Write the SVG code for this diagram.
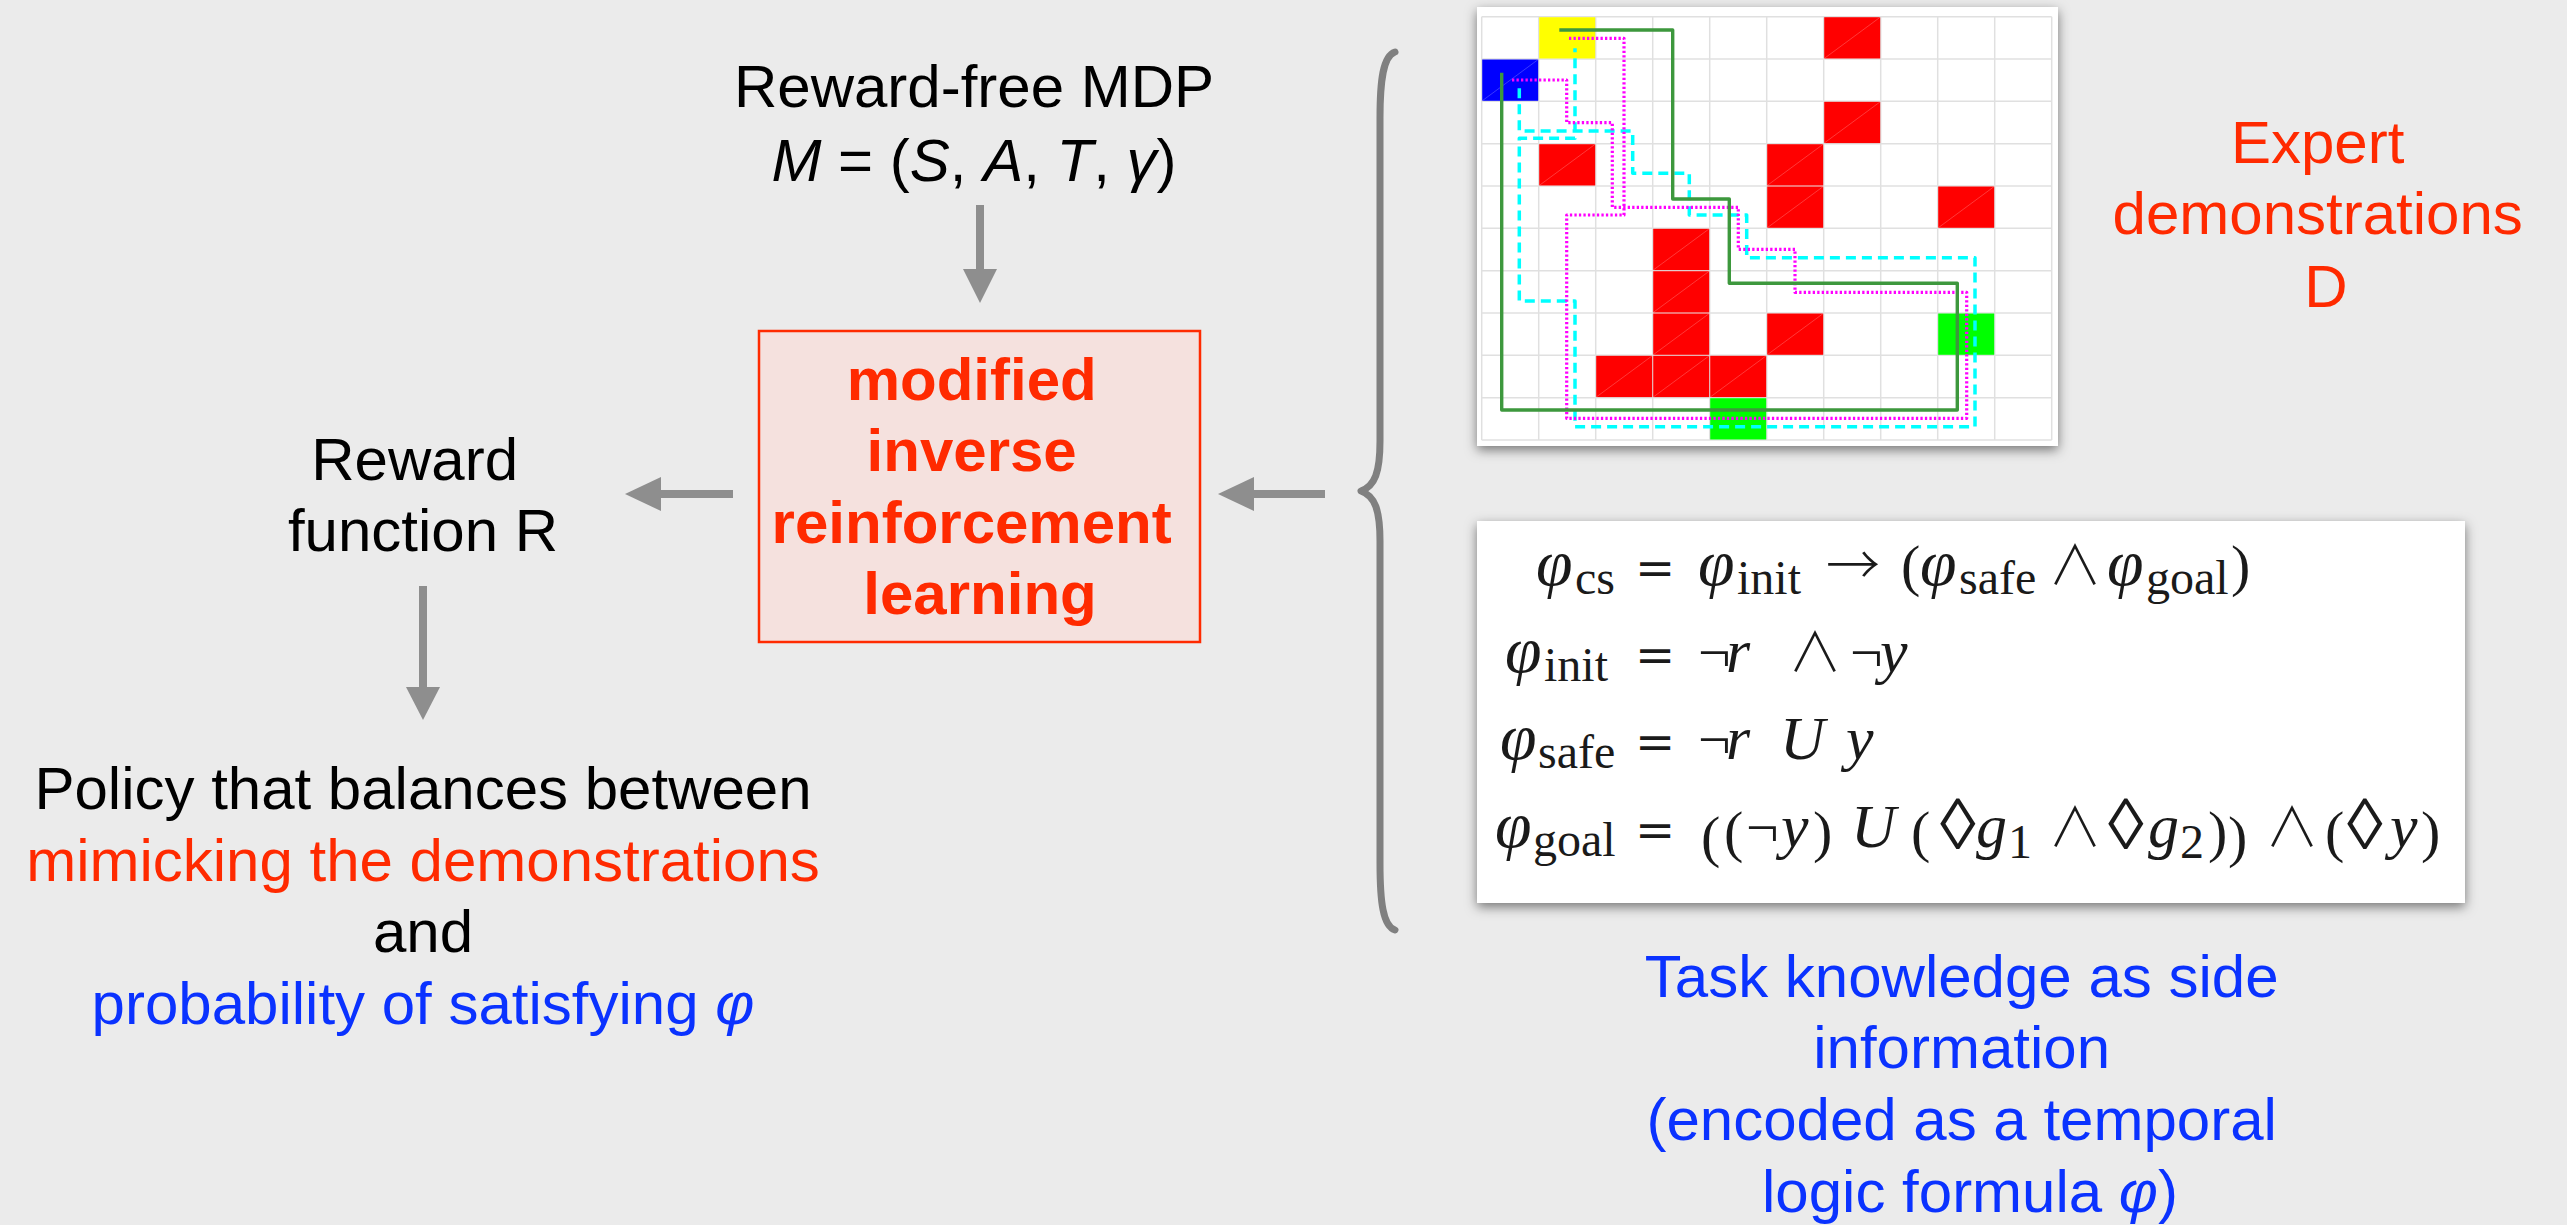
<svg xmlns="http://www.w3.org/2000/svg" width="2567" height="1225" viewBox="0 0 2567 1225">
  <defs>
    <style>
      .sans { font-family: "Liberation Sans", Arial, sans-serif; font-size: 60px; }
      .black { fill: #000000; }
      .red { fill: #ff2a00; }
      .blue { fill: #0a32ff; }
      .bold { font-weight: bold; }
      .it { font-style: italic; }
      .arrow { fill: #8e8e8e; }
      .fi { font-family: "Liberation Serif", "DejaVu Serif", serif; font-style: italic; font-size: 62px; fill: #1a1a1a; }
      .phi { font-family: "Liberation Serif", "DejaVu Serif", serif; font-style: italic; font-size: 66px; fill: #1a1a1a; }
      .fs { font-family: "Liberation Serif", "DejaVu Serif", serif; font-size: 48px; fill: #1a1a1a; }
      .fn { font-family: "Liberation Serif", "DejaVu Serif", serif; font-size: 58px; fill: #1a1a1a; }
      .dia { font-family: "Liberation Serif", "DejaVu Serif", serif; font-size: 72px; fill: #1a1a1a; }
      .fo { font-family: "DejaVu Serif", "Liberation Serif", serif; font-size: 48px; fill: #1a1a1a; }
      .wedge { font-family: "Noto Sans CJK JP", "DejaVu Serif", serif; font-weight: 300; font-size: 54px; fill: #1a1a1a; }
      .gridline { stroke: #e0e0e0; stroke-width: 1.5; }
      .cell-r { fill: #ff0000; }
      .cell-g { fill: #00ff00; }
      .diag { stroke: #ffffff; stroke-opacity: 0.22; stroke-width: 1; }
    </style>
    <filter id="cardShadow" x="-10%" y="-10%" width="120%" height="125%">
      <feDropShadow dx="0" dy="4" stdDeviation="6" flood-color="#000000" flood-opacity="0.5"/>
    </filter>
  </defs>

  <!-- background -->
  <rect x="0" y="0" width="2567" height="1225" fill="#ebebeb"/>

  <!-- connectors -->
  <g id="connectors">
    <!-- MDP to IRL box -->
    <rect class="arrow" x="976" y="205" width="8" height="66"/>
    <polygon class="arrow" points="963,269 997,269 980,303"/>
    <!-- IRL box to reward function -->
    <rect class="arrow" x="659" y="490" width="74" height="8"/>
    <polygon class="arrow" points="661,477 661,511 625,494"/>
    <!-- brace to IRL box -->
    <rect class="arrow" x="1252" y="490" width="73" height="8"/>
    <polygon class="arrow" points="1254,477 1254,511 1218,494"/>
    <!-- reward function to policy -->
    <rect class="arrow" x="419" y="586" width="8" height="103"/>
    <polygon class="arrow" points="406,687 440,687 423,720"/>
    <!-- curly brace grouping the two inputs -->
    <path d="M1395,52 C1383,56 1380,80 1380,118 L1380,441 C1380,472 1375,486 1361,491 C1375,496 1380,510 1380,541 L1380,863 C1380,902 1383,926 1395,930" fill="none" stroke="#808080" stroke-width="7" stroke-linecap="round" stroke-linejoin="round"/>
  </g>

  <!-- reward-free MDP -->
  <g id="mdp">
    <text class="sans black" x="974" y="107" text-anchor="middle">Reward-free MDP</text>
    <text class="sans black" x="974" y="181" text-anchor="middle"><tspan class="it">M</tspan> = (<tspan class="it">S</tspan>, <tspan class="it">A</tspan>,  <tspan class="it">T</tspan>, <tspan class="it">γ</tspan>)</text>
  </g>

  <!-- modified IRL -->
  <g id="irl">
    <rect x="759" y="331" width="441" height="311" fill="#f5e1de" stroke="#ff2a00" stroke-width="2.5"/>
    <text class="sans red bold" text-anchor="middle">
      <tspan x="980" y="400">modified</tspan>
      <tspan x="980" y="471">inverse</tspan>
      <tspan x="980" y="543">reinforcement</tspan>
      <tspan x="980" y="614">learning</tspan>
    </text>
  </g>

  <!-- reward function -->
  <g id="reward">
    <text class="sans black" text-anchor="middle">
      <tspan x="423" y="480">Reward</tspan>
      <tspan x="423" y="551">function R</tspan>
    </text>
  </g>

  <!-- resulting policy -->
  <g id="policy">
    <text class="sans black" x="423" y="809" text-anchor="middle">Policy that balances between</text>
    <text class="sans red" x="423" y="881" text-anchor="middle">mimicking the demonstrations</text>
    <text class="sans black" x="423" y="952" text-anchor="middle">and</text>
    <text class="sans blue" x="423" y="1024" text-anchor="middle">probability of satisfying <tspan class="it">φ</tspan></text>
  </g>

  <!-- gridworld with demonstrated trajectories -->
  <g id="demonstrations">
    <rect x="1477" y="7" width="581" height="439" fill="#ffffff" filter="url(#cardShadow)"/>
    <g id="grid-lines">
      <line class="gridline" x1="1481.7" y1="16.7" x2="1481.7" y2="440"/>
      <line class="gridline" x1="1538.7" y1="16.7" x2="1538.7" y2="440"/>
      <line class="gridline" x1="1595.7" y1="16.7" x2="1595.7" y2="440"/>
      <line class="gridline" x1="1652.7" y1="16.7" x2="1652.7" y2="440"/>
      <line class="gridline" x1="1709.7" y1="16.7" x2="1709.7" y2="440"/>
      <line class="gridline" x1="1766.7" y1="16.7" x2="1766.7" y2="440"/>
      <line class="gridline" x1="1823.7" y1="16.7" x2="1823.7" y2="440"/>
      <line class="gridline" x1="1880.7" y1="16.7" x2="1880.7" y2="440"/>
      <line class="gridline" x1="1937.7" y1="16.7" x2="1937.7" y2="440"/>
      <line class="gridline" x1="1994.7" y1="16.7" x2="1994.7" y2="440"/>
      <line class="gridline" x1="2051.7" y1="16.7" x2="2051.7" y2="440"/>
      <line class="gridline" x1="1481.7" y1="16.7" x2="2051.7" y2="16.7"/>
      <line class="gridline" x1="1481.7" y1="59" x2="2051.7" y2="59"/>
      <line class="gridline" x1="1481.7" y1="101.3" x2="2051.7" y2="101.3"/>
      <line class="gridline" x1="1481.7" y1="143.7" x2="2051.7" y2="143.7"/>
      <line class="gridline" x1="1481.7" y1="186" x2="2051.7" y2="186"/>
      <line class="gridline" x1="1481.7" y1="228.3" x2="2051.7" y2="228.3"/>
      <line class="gridline" x1="1481.7" y1="270.7" x2="2051.7" y2="270.7"/>
      <line class="gridline" x1="1481.7" y1="313" x2="2051.7" y2="313"/>
      <line class="gridline" x1="1481.7" y1="355.3" x2="2051.7" y2="355.3"/>
      <line class="gridline" x1="1481.7" y1="397.7" x2="2051.7" y2="397.7"/>
      <line class="gridline" x1="1481.7" y1="440" x2="2051.7" y2="440"/>
    </g>
    <g id="cells">
      <!-- start states -->
      <rect x="1539.2" y="17.2" width="56" height="41.3" fill="#ffff00"/>
      <rect x="1482.2" y="59.5" width="56" height="41.3" fill="#0000ff"/>
      <!-- obstacles -->
      <rect class="cell-r" x="1824.2" y="17.2" width="56" height="41.3"/>
      <rect class="cell-r" x="1824.2" y="101.8" width="56" height="41.3"/>
      <rect class="cell-r" x="1539.2" y="144.2" width="56" height="41.3"/>
      <rect class="cell-r" x="1767.2" y="144.2" width="56" height="41.3"/>
      <rect class="cell-r" x="1767.2" y="186.5" width="56" height="41.3"/>
      <rect class="cell-r" x="1938.2" y="186.5" width="56" height="41.3"/>
      <rect class="cell-r" x="1653.2" y="228.8" width="56" height="41.3"/>
      <rect class="cell-r" x="1653.2" y="271.2" width="56" height="41.3"/>
      <rect class="cell-r" x="1653.2" y="313.5" width="56" height="41.3"/>
      <rect class="cell-r" x="1767.2" y="313.5" width="56" height="41.3"/>
      <rect class="cell-r" x="1596.2" y="355.8" width="56" height="41.3"/>
      <rect class="cell-r" x="1653.2" y="355.8" width="56" height="41.3"/>
      <rect class="cell-r" x="1710.2" y="355.8" width="56" height="41.3"/>
      <!-- goal states -->
      <rect class="cell-g" x="1938.2" y="313.5" width="56" height="41.3"/>
      <rect class="cell-g" x="1710.2" y="398.2" width="56" height="41.3"/>
    </g>
    <g id="cell-seams">
      <line class="diag" x1="1824.2" y1="58.5" x2="1880.2" y2="17.2"/>
      <line class="diag" x1="1824.2" y1="143.1" x2="1880.2" y2="101.8"/>
      <line class="diag" x1="1539.2" y1="185.5" x2="1595.2" y2="144.2"/>
      <line class="diag" x1="1767.2" y1="185.5" x2="1823.2" y2="144.2"/>
      <line class="diag" x1="1767.2" y1="227.8" x2="1823.2" y2="186.5"/>
      <line class="diag" x1="1938.2" y1="227.8" x2="1994.2" y2="186.5"/>
      <line class="diag" x1="1653.2" y1="270.1" x2="1709.2" y2="228.8"/>
      <line class="diag" x1="1653.2" y1="312.5" x2="1709.2" y2="271.2"/>
      <line class="diag" x1="1653.2" y1="354.8" x2="1709.2" y2="313.5"/>
      <line class="diag" x1="1767.2" y1="354.8" x2="1823.2" y2="313.5"/>
      <line class="diag" x1="1596.2" y1="397.1" x2="1652.2" y2="355.8"/>
      <line class="diag" x1="1653.2" y1="397.1" x2="1709.2" y2="355.8"/>
      <line class="diag" x1="1710.2" y1="397.1" x2="1766.2" y2="355.8"/>
      <line class="diag" x1="1482.2" y1="100.8" x2="1538.2" y2="59.5"/>
    </g>
    <g id="trajectories" fill="none" stroke-linejoin="round">
      <!-- dashed demonstration -->
      <path d="M1519.3,88.3 V131 H1632.7 V173.3 H1689.3 V215 H1746.7 V257.7 H1975 V426.7 H1575 V301 H1519.3 V138.3 H1575 V48.3" stroke="#00ffff" stroke-width="3.5" stroke-dasharray="10 6"/>
      <!-- dotted demonstration -->
      <path d="M1569,38.3 H1624 V215 H1566.7 V418.3 H1966.7 V292.3 H1795 V249.3 H1738.3 V207.3 H1612.3 V122.7 H1566.7 V80 H1510" stroke="#ff00ff" stroke-width="3.2" stroke-dasharray="2.3 2.2"/>
      <!-- solid demonstration -->
      <path d="M1559.3,30 H1672.7 V199 H1729.3 V283.3 H1957.3 V410 H1501.7 V72.7" stroke="#3d983d" stroke-width="3.4"/>
    </g>
  </g>

  <!-- expert demonstrations label -->
  <g id="expert-label">
    <text class="sans red" text-anchor="middle">
      <tspan x="2326" y="163">Expert</tspan>
      <tspan x="2326" y="234">demonstrations</tspan>
      <tspan x="2326" y="307">D</tspan>
    </text>
  </g>

  <!-- temporal logic specification -->
  <g id="specification">
    <rect x="1477" y="521" width="988" height="382" fill="#ffffff" filter="url(#cardShadow)"/>
    <text>
      <tspan class="phi" x="1536" y="585">φ</tspan><tspan class="fs" x="1575" y="594">cs</tspan>
      <tspan class="fo" x="1635" y="585">=</tspan>
      <tspan class="phi" x="1698" y="585">φ</tspan><tspan class="fs" x="1737" y="594">init</tspan>
      <tspan class="wedge" x="1826" y="585">→</tspan>
      <tspan class="fn" x="1901" y="585" font-size="64">(</tspan>
      <tspan class="phi" x="1920" y="585">φ</tspan><tspan class="fs" x="1959" y="594">safe</tspan>
      <tspan class="wedge" x="2048" y="585">∧</tspan>
      <tspan class="phi" x="2107" y="585">φ</tspan><tspan class="fs" x="2146" y="594">goal</tspan>
      <tspan class="fn" x="2231" y="585" font-size="64">)</tspan>
    </text>
    <text>
      <tspan class="phi" x="1505" y="672">φ</tspan><tspan class="fs" x="1544" y="681">init</tspan>
      <tspan class="fo" x="1635" y="672">=</tspan>
      <tspan class="fn" x="1698" y="672">¬</tspan><tspan class="fi" x="1726" y="672">r</tspan>
      <tspan class="wedge" x="1788" y="672">∧</tspan>
      <tspan class="fn" x="1850" y="672">¬</tspan><tspan class="fi" x="1880" y="672">y</tspan>
    </text>
    <text>
      <tspan class="phi" x="1500" y="759">φ</tspan><tspan class="fs" x="1538" y="768">safe</tspan>
      <tspan class="fo" x="1635" y="759">=</tspan>
      <tspan class="fn" x="1698" y="759">¬</tspan><tspan class="fi" x="1726" y="759">r</tspan>
      <tspan class="fi" x="1780" y="759" font-size="64">U</tspan>
      <tspan class="fi" x="1846" y="759">y</tspan>
    </text>
    <text>
      <tspan class="phi" x="1495" y="847">φ</tspan><tspan class="fs" x="1533" y="856">goal</tspan>
      <tspan class="fo" x="1635" y="847">=</tspan>
      <tspan class="fn" x="1701" y="856" font-size="76">(</tspan><tspan class="fn" x="1724" y="851" font-size="64">(</tspan>
      <tspan class="fn" x="1746" y="847">¬</tspan><tspan class="fi" x="1781" y="847">y</tspan><tspan class="fn" x="1813" y="851" font-size="64">)</tspan>
      <tspan class="fi" x="1851" y="847" font-size="64">U</tspan>
      <tspan class="fn" x="1911" y="851" font-size="64">(</tspan>
      <tspan class="dia" x="1940" y="849">◊</tspan><tspan class="fi" x="1976" y="847">g</tspan><tspan class="fs" x="2008" y="858">1</tspan>
      <tspan class="wedge" x="2048" y="847">∧</tspan>
      <tspan class="dia" x="2108" y="849">◊</tspan><tspan class="fi" x="2148" y="847">g</tspan><tspan class="fs" x="2180" y="858">2</tspan>
      <tspan class="fn" x="2208" y="851" font-size="64">)</tspan><tspan class="fn" x="2228" y="856" font-size="76">)</tspan>
      <tspan class="wedge" x="2265" y="847">∧</tspan>
      <tspan class="fn" x="2325" y="851" font-size="64">(</tspan>
      <tspan class="dia" x="2347" y="849">◊</tspan><tspan class="fi" x="2390" y="847">y</tspan>
      <tspan class="fn" x="2421" y="851" font-size="64">)</tspan>
    </text>
  </g>

  <!-- task knowledge label -->
  <g id="task-label">
    <text class="sans blue" text-anchor="middle">
      <tspan x="1970" y="997">Task knowledge as side</tspan>
      <tspan x="1970" y="1068">information</tspan>
      <tspan x="1970" y="1140">(encoded as a temporal</tspan>
      <tspan x="1970" y="1212">logic formula <tspan class="it">φ</tspan>)</tspan>
    </text>
  </g>
</svg>
